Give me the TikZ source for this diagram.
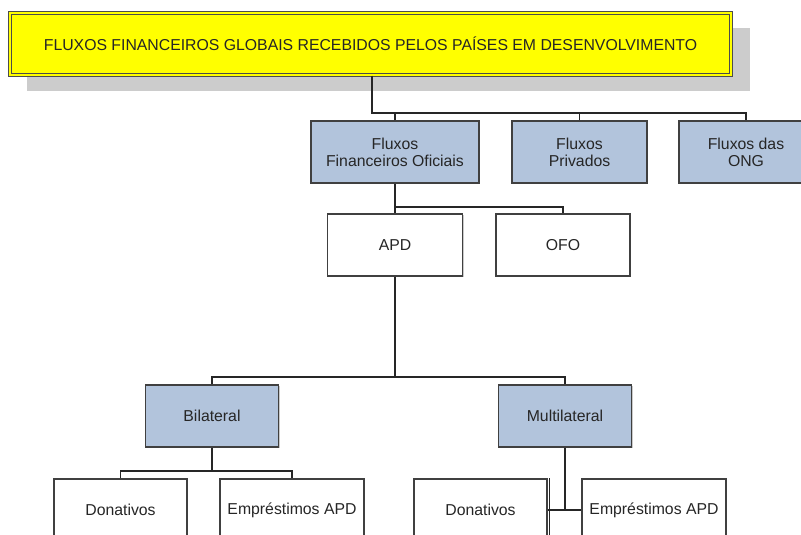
\documentclass[tikz,border=0pt]{standalone}
\usepackage{fontspec}
\setmainfont{Liberation Sans}
\usetikzlibrary{shadows}
\definecolor{boxblue}{RGB}{178,196,220}
\definecolor{titleyellow}{RGB}{255,255,0}
\definecolor{shadowgray}{RGB}{204,204,204}
\tikzset{
  every node/.style={font=\fontsize{15.8}{16.8}\selectfont, text=black!85},
  basebox/.style={rectangle, draw=black!75, line width=1.2pt, align=center, inner sep=0pt,
    minimum height=62pt, drop shadow={shadow xshift=1.2pt, shadow yshift=-1.2pt, fill=black!35, opacity=0.6}},
  bluebox/.style={basebox, fill=boxblue},
  whitebox/.style={basebox, fill=white},
  titlebox/.style={rectangle, draw=black!70, line width=1.1pt, double=titleyellow, double distance=2pt,
    fill=titleyellow, minimum width=721pt, minimum height=62pt, inner sep=0pt},
  conn/.style={draw=black!85, line width=1.5pt}
}
\begin{document}
\begin{tikzpicture}[x=1pt,y=-1pt]
\useasboundingbox (0,0) rectangle (801,535);
\clip (0,0) rectangle (801,535);
% title shadow
\fill[shadowgray] (27,28) rectangle (750,91);
\node[titlebox] (title) at (370.5,44) {FLUXOS FINANCEIROS GLOBAIS RECEBIDOS PELOS PAÍSES EM DESENVOLVIMENTO};
% second row
\node[bluebox, minimum width=168pt] (ffo) at (395,152) {Fluxos\\Financeiros Oficiais};
\node[bluebox, minimum width=135pt] (fp) at (579.5,152) {Fluxos\\Privados};
\node[bluebox, minimum width=134pt] (fong) at (746,152) {Fluxos das\\ONG};
% third row
\node[whitebox, minimum width=135pt] (apd) at (395,245) {APD};
\node[whitebox, minimum width=134pt] (ofo) at (563,245) {OFO};
% fourth row
\node[bluebox, minimum width=133pt] (bil) at (212,416) {Bilateral};
\node[bluebox, minimum width=133pt] (mul) at (565,416) {Multilateral};
% fifth row
\node[whitebox, minimum width=133pt] (don1) at (120.5,510) {Donativos};
\node[whitebox, minimum width=144pt] (emp1) at (292,510) {Empréstimos APD};
\node[whitebox, minimum width=133pt] (don2) at (480.5,510) {Donativos};
\node[whitebox, minimum width=144pt] (emp2) at (654,510) {Empréstimos APD};
% bus coordinates
\coordinate (bus1) at (0,113);
\coordinate (bus2) at (0,207);
\coordinate (bus3) at (0,377);
\coordinate (bus4) at (0,471);
\coordinate (bot) at (0,540);
% connectors
\draw[conn] ([xshift=1.5pt]title.south) |- (bus1 -| fong.north) -- (fong.north);
\draw[conn] (ffo.north) -- (ffo.north |- bus1);
\draw[conn] (fp.north) -- (fp.north |- bus1);
\draw[conn] (ffo.south) -- (apd.north);
\draw[conn] (apd.north |- bus2) -| (ofo.north);
\draw[conn] (apd.south) -- (apd.south |- bus3);
\draw[conn] (bil.north) |- (mul.north |- bus3) -- (mul.north);
\draw[conn] (bil.south) -- (bil.south |- bus4);
\draw[conn] (don1.north) |- (emp1.north |- bus4) -- (emp1.north);
\draw[conn] (mul.south) -- (mul.south |- emp2.west);
\draw[conn] (don2.east) -- (emp2.west);
\draw[conn] ([xshift=2pt]don2.north east) -- ([xshift=2pt]don2.north east |- bot);
\end{tikzpicture}
\end{document}
